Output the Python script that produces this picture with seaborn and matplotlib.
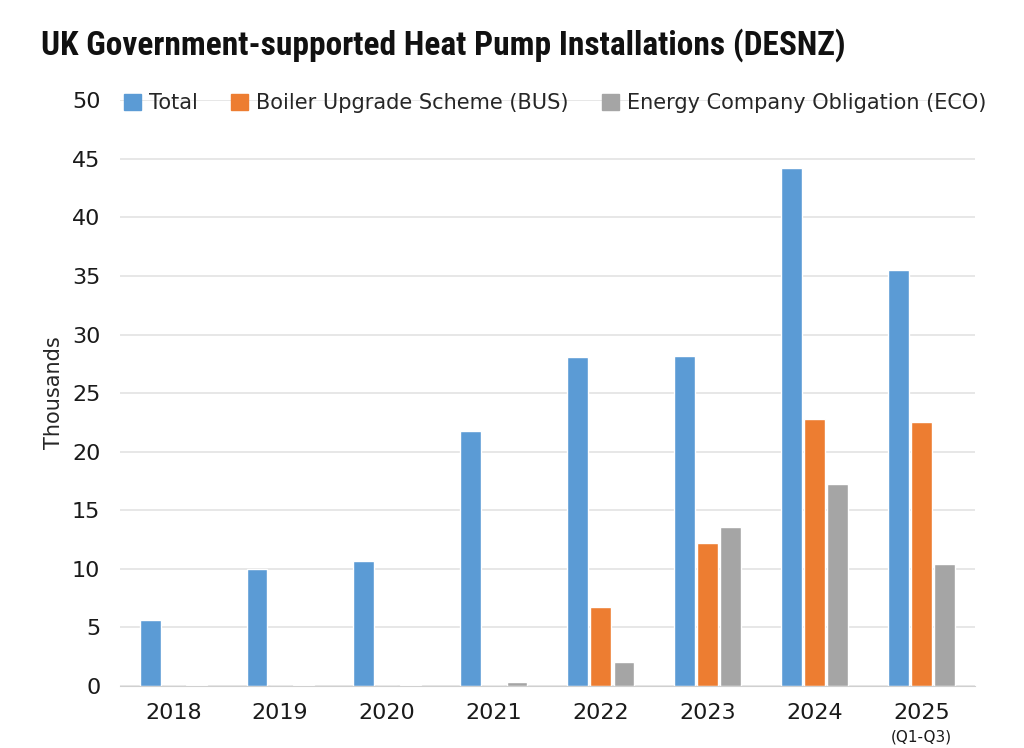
import numpy as np
import pandas as pd
import matplotlib
matplotlib.use('Agg')
import matplotlib.pyplot as plt
from matplotlib import font_manager
import seaborn as sns

years = ['2018', '2019', '2020', '2021', '2022', '2023', '2024', '2025']
total = [5.6, 10.0, 10.7, 21.8, 28.1, 28.2, 44.2, 35.5]
bus = [0.0, 0.0, 0.0, 0.0, 6.7, 12.2, 22.8, 22.5]
eco = [0.1, 0.1, 0.1, 0.35, 2.0, 13.6, 17.2, 10.4]
series_names = ['Total', 'Boiler Upgrade Scheme (BUS)', 'Energy Company Obligation (ECO)']
colours = ['#5B9BD5', '#ED7D31', '#A5A5A5']

df = pd.DataFrame({
    'year': years * 3,
    'value': total + bus + eco,
    'series': [s for s in series_names for _ in years],
})

sns.set_style('white')
plt.rcParams['font.family'] = ['DejaVu Sans']

# pick a narrow bold face for the title if one is around
names = {f.name for f in font_manager.fontManager.ttflist}
title_family = 'DejaVu Sans'
for cand in ['Roboto Condensed', 'Liberation Sans Narrow', 'DejaVu Sans Condensed']:
    if cand in names:
        title_family = cand
        break

fig = plt.figure(figsize=(10.24, 7.48), dpi=100)
ax = fig.add_axes([0.117, 0.083, 0.835, 0.783])

sns.barplot(data=df, x='year', y='value', hue='series', palette=colours,
            width=0.65, gap=0.1, saturation=1, ax=ax, legend=False)

ax.set_ylim(0, 50)
ax.set_yticks(np.arange(0, 51, 5))
ax.set_xlim(-0.5, len(years) - 0.5)
ax.yaxis.grid(True, color='#e3e3e3', linewidth=1.2)
ax.set_axisbelow(True)
for side in ['left', 'right', 'top']:
    ax.spines[side].set_visible(False)
ax.spines['bottom'].set_color('#d0d0d0')
ax.tick_params(axis='both', labelsize=16, length=0, colors='#1a1a1a')
ax.tick_params(axis='y', pad=14)
ax.tick_params(axis='x', pad=12)
ax.set_xlabel('')
ax.set_ylabel('Thousands', fontsize=15, labelpad=6)

# sub-label under the last year
ax.text(len(years) - 1, -0.075, '(Q1-Q3)', transform=ax.get_xaxis_transform(),
        ha='center', va='top', fontsize=11, color='#1a1a1a')

handles = [plt.Rectangle((0, 0), 1, 1, color=c) for c in colours]
ax.legend(handles, series_names, loc='center left', bbox_to_anchor=(-0.005, 0.995),
          ncol=3, frameon=False, fontsize=15, handlelength=0.8, handleheight=0.8,
          handletextpad=0.4, columnspacing=1.6, borderaxespad=0)

fig.text(0.04, 0.94, 'UK Government-supported Heat Pump Installations (DESNZ)',
         fontsize=24, fontweight='bold', family=[title_family, 'DejaVu Sans'],
         fontstretch='condensed', ha='left', va='center', color='#111111')

fig.savefig('out.png', dpi=100, facecolor='white')
